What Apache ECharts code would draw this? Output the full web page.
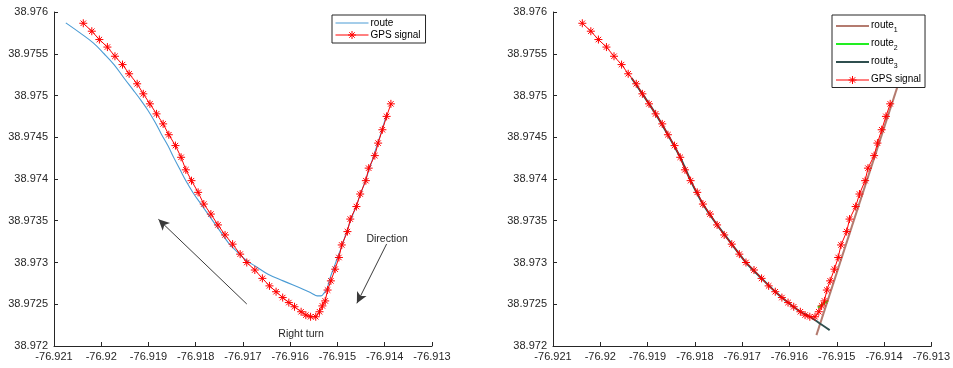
<!DOCTYPE html>
<html><head><meta charset="utf-8">
<script src="https://cdn.jsdelivr.net/npm/echarts@6/dist/echarts.min.js"></script>
<style>html,body{margin:0;padding:0;background:#fff}#c{width:953px;height:368px}</style>
</head><body><div id="c"></div>
<script>
// ---- data ----
const xMin = -76.921, xMax = -76.913, xStep = 0.001;
const yMin = 38.972, yMax = 38.976, yStep = 0.0005;

const gpsLon = [-76.92038,-76.92020,-76.92004,-76.91987,-76.91971,-76.91955,-76.91941,-76.91924,-76.91911,-76.91897,
  -76.91883,-76.91869,-76.91857,-76.91843,-76.91831,-76.91821,-76.91809,-76.91795,-76.91783,-76.91768,
  -76.91753,-76.91738,-76.91722,-76.91706,-76.91692,-76.91675,-76.91659,-76.91644,-76.91630,-76.91616,
  -76.91603,-76.91591,-76.91577,-76.91567,-76.91557,-76.91546,-76.91538,-76.91532,-76.91526,-76.91521,
  -76.91514,-76.91505,-76.91497,-76.91491,-76.91479,-76.91473,-76.91460,-76.91452,-76.91440,-76.91434,
  -76.91421,-76.91414,-76.91405,-76.91396,-76.91387];
const gpsLat = [38.975865,38.97577,38.97567,38.97558,38.97547,38.97537,38.97526,38.97514,38.97502,38.97490,
  38.97478,38.97466,38.97453,38.97440,38.97426,38.97411,38.97398,38.97384,38.97370,38.97358,
  38.97345,38.97333,38.97322,38.97310,38.97300,38.97291,38.97281,38.97272,38.97265,38.97258,
  38.97252,38.97247,38.97241,38.97237,38.97235,38.97235,38.97241,38.97248,38.97254,38.97267,
  38.97278,38.97292,38.97306,38.97321,38.97337,38.97352,38.97367,38.97382,38.97398,38.97413,
  38.97428,38.97443,38.97459,38.97475,38.97490];

const routeLon = [-76.92075,-76.92045,-76.92017,-76.91994,-76.91973,-76.91952,-76.91933,-76.91917,-76.91902,-76.91886,
  -76.91873,-76.91859,-76.91846,-76.91833,-76.91820,-76.91805,-76.91789,-76.91774,-76.91759,-76.91744,
  -76.91730,-76.91713,-76.91694,-76.91672,-76.91647,-76.91615,-76.91573,-76.91554,-76.91543,-76.91535,
  -76.91529,-76.91522,-76.91516,-76.91503,-76.91490,-76.91478,-76.91463,-76.91448,-76.91435,-76.91421,
  -76.91408,-76.91395];
const routeLat = [38.97587,38.97575,38.97563,38.97550,38.97537,38.97521,38.97507,38.97495,38.97483,38.97468,
  38.97454,38.97440,38.97425,38.97411,38.97397,38.97383,38.97370,38.97358,38.97346,38.97334,
  38.97323,38.97313,38.97303,38.97295,38.97286,38.97278,38.97268,38.97263,38.97260,38.97260,
  38.97263,38.97269,38.97281,38.97301,38.97321,38.97341,38.97364,38.97387,38.97408,38.97432,
  38.97455,38.97479];

const route1Lon = [-76.91543, -76.91372];
const route1Lat = [38.97213, 38.97510];
const route2Lon = [-76.91540, -76.91519];
const route2Lat = [38.97246, 38.97254];
const route3Lon = [-76.91934,-76.91911,-76.91883,-76.91857,-76.91831,-76.91809,-76.91783,-76.91753,-76.91722,-76.91692,
  -76.91659,-76.91630,-76.91603,-76.91577,-76.91557,-76.91515];
const route3Lat = [38.97521,38.97502,38.97478,38.97453,38.97426,38.97398,38.97370,38.97345,38.97322,38.97300,
  38.97281,38.97265,38.97252,38.97241,38.97235,38.97219];

// annotations (data coordinates)
const arrowBig = [[-76.91692, 38.972503], [-76.91879, 38.973517]];
const arrowDir = [[-76.91396, 38.973222], [-76.91459, 38.972511]];
const textDirection = {text: 'Direction', pos: [-76.91395, 38.97328]};
const textRightTurn = {text: 'Right turn', pos: [-76.91577, 38.97214]};

// ---- build ----
const zip = (a, b) => a.map((v, i) => [v, b[i]]);
const FONT = 'Liberation Sans, Arial, Helvetica, sans-serif';
const AX = '#262626';
const asterisk = 'path://M5,0L5,10M0,5L10,5M1.6,1.6L8.4,8.4M1.6,8.4L8.4,1.6';
const fmt = v => String(parseFloat(v.toFixed(5)));

function xAxis(i) {
  return {type:'value', gridIndex:i, min:xMin, max:xMax, interval:xStep,
    axisLine:{show:true, onZero:false, lineStyle:{color:AX, width:1}},
    axisTick:{show:true, inside:true, length:4, lineStyle:{color:AX}},
    axisLabel:{color:AX, fontFamily:FONT, fontSize:11, margin:5, formatter:fmt, showMinLabel:true, showMaxLabel:true},
    splitLine:{show:false}};
}
function yAxis(i) {
  return {type:'value', gridIndex:i, min:yMin, max:yMax, interval:yStep,
    axisLine:{show:true, onZero:false, lineStyle:{color:AX, width:1}},
    axisTick:{show:true, inside:true, length:4, lineStyle:{color:AX}},
    axisLabel:{color:AX, fontFamily:FONT, fontSize:11, margin:6, formatter:fmt, showMinLabel:true, showMaxLabel:true},
    splitLine:{show:false}};
}
function gps(i, extra) {
  return Object.assign({name:'GPS signal', type:'line', xAxisIndex:i, yAxisIndex:i,
    data: zip(gpsLon, gpsLat), symbol: asterisk, symbolSize: 8, symbolKeepAspect:true,
    lineStyle:{color:'#ff0000', width:1}, itemStyle:{color:'#ff0000', borderColor:'#ff0000', borderWidth:1},
    z:5, animation:false}, extra || {});
}
const hide = {opacity:0};
const gpsLegend = {name:'GPS signal', itemStyle:{color:'#ff0000', borderColor:'#ff0000', borderWidth:1}, lineStyle:{width:1, color:'#ff0000'}};
const subRich = {
  n:{fontFamily:FONT, fontSize:10, color:'#000', lineHeight:16, verticalAlign:'top', padding:[2,0,0,0]},
  s:{fontFamily:FONT, fontSize:7, color:'#000', lineHeight:16, verticalAlign:'bottom'}
};
const option = {
  animation:false,
  backgroundColor:'#fff',
  grid:[{left:54, top:12, width:378, height:334}, {left:553, top:12, width:379, height:334}],
  xAxis:[xAxis(0), xAxis(1)],
  yAxis:[yAxis(0), yAxis(1)],
  legend:[
    {data:[{name:'route', itemStyle:hide, lineStyle:{width:1}}, gpsLegend], orient:'vertical', left:332, top:15,
     itemWidth:33, itemHeight:10, itemGap:2,
     backgroundColor:'#fff', borderColor:AX, borderWidth:1, borderRadius:0, padding:[3,5,3,3],
     textStyle:{fontFamily:FONT, fontSize:10, color:'#000', padding:[0,0,0,-3]}, selectedMode:false},
    {data:[{name:'route1', itemStyle:hide, lineStyle:{width:2}}, {name:'route2', itemStyle:hide, lineStyle:{width:2}},
           {name:'route3', itemStyle:hide, lineStyle:{width:2}}, gpsLegend],
     orient:'vertical', left:832, top:15, itemWidth:33, itemHeight:10, itemGap:2,
     backgroundColor:'#fff', borderColor:AX, borderWidth:1, borderRadius:0, padding:[3,4,3,3],
     formatter: n => n === 'GPS signal' ? '{n|GPS signal}' : '{n|route}{s|' + n.slice(5) + '}',
     textStyle:{fontFamily:FONT, fontSize:10, color:'#000', rich:subRich, padding:[0,0,0,-3]}, selectedMode:false}
  ],
  series:[
    {name:'route', type:'line', xAxisIndex:0, yAxisIndex:0, data:zip(routeLon, routeLat), symbol:'none',
     lineStyle:{color:'#4a9bd4', width:1.1}, itemStyle:{color:'#4a9bd4'}, smooth:0.4, z:3},
    gps(0, {
      markLine:{silent:true, symbol:['none','arrow'], symbolSize:[8,11], animation:false,
        lineStyle:{color:'#3a3a3a', width:1, type:'solid'}, label:{show:false},
        emphasis:{disabled:true},
        data:[[{coord:arrowBig[0]},{coord:arrowBig[1]}],[{coord:arrowDir[0]},{coord:arrowDir[1]}]]},
      markPoint:{silent:true, symbol:'circle', symbolSize:0, animation:false,
        label:{show:true, position:'inside', formatter:'{b}', fontFamily:FONT, fontSize:10.5, color:'#262626'},
        data:[{name:textDirection.text, coord:textDirection.pos}, {name:textRightTurn.text, coord:textRightTurn.pos}]}
    }),
    {name:'route1', type:'line', xAxisIndex:1, yAxisIndex:1, data:zip(route1Lon, route1Lat), symbol:'none',
     lineStyle:{color:'#b47b6f', width:2}, itemStyle:{color:'#b47b6f'}, z:2},
    {name:'route2', type:'line', xAxisIndex:1, yAxisIndex:1, data:zip(route2Lon, route2Lat), symbol:'none',
     lineStyle:{color:'#22ee22', width:2}, itemStyle:{color:'#22ee22'}, z:3},
    {name:'route3', type:'line', xAxisIndex:1, yAxisIndex:1, data:zip(route3Lon, route3Lat), symbol:'none',
     lineStyle:{color:'#2f4f4f', width:2}, itemStyle:{color:'#2f4f4f'}, smooth:0.2, z:4},
    gps(1)
  ]
};
const chart = echarts.init(document.getElementById('c'), null, {renderer:'canvas'});
chart.setOption(option);
</script>
</body></html>
